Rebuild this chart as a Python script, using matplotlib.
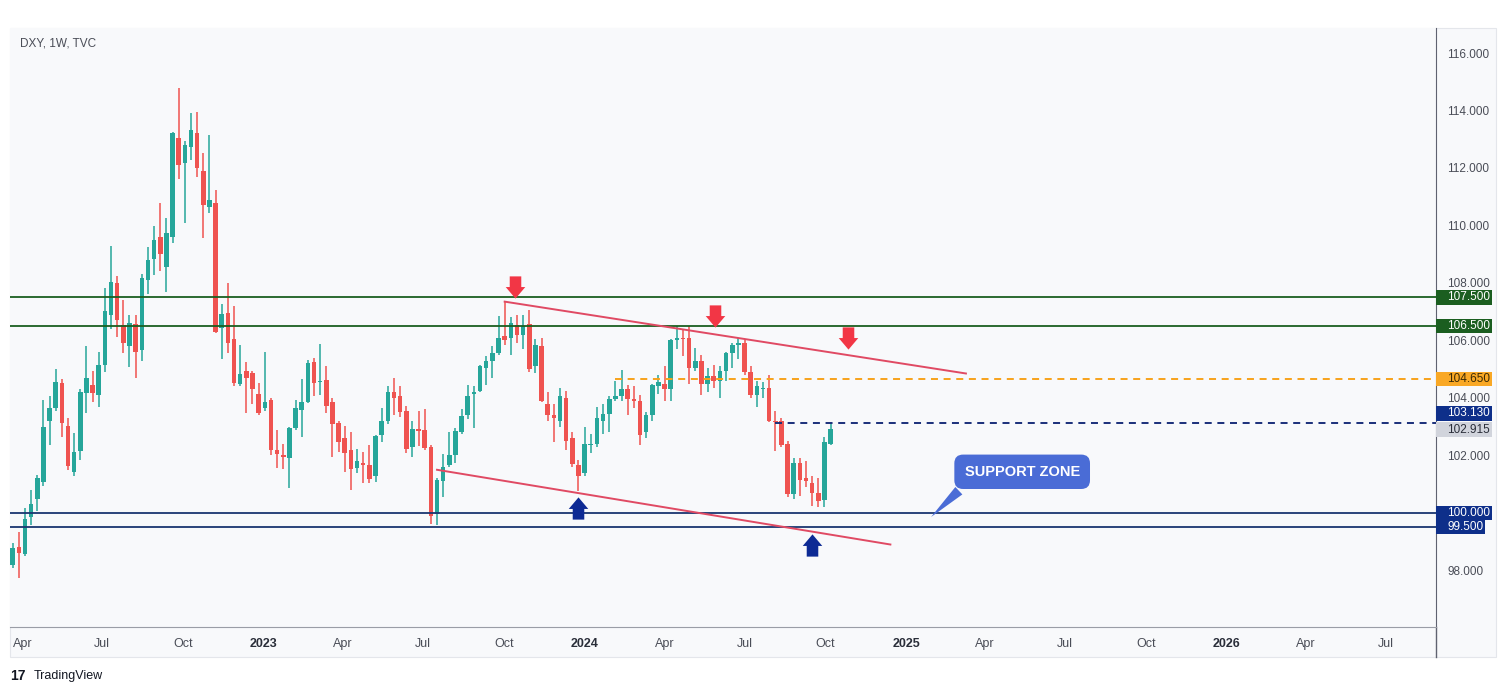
import numpy as np
import pandas as pd
import matplotlib
matplotlib.use('Agg')
import matplotlib.pyplot as plt
import matplotlib.dates as mdates
from matplotlib.path import Path
from matplotlib.patches import Rectangle
from matplotlib.lines import Line2D
from matplotlib.transforms import blended_transform_factory

plt.rcParams['font.family'] = ['Liberation Sans', 'DejaVu Sans']

# DXY weekly candles, first bar is the week of 2022-03-21
first_week = '2022-03-21'
opens = [
    98.20, 98.80, 98.57, 99.86, 100.50, 101.09, 103.18, 103.66, 104.51, 103.04,
    101.44, 102.17, 104.16, 104.45, 104.10, 105.15, 106.89, 107.99, 106.54, 105.82,
    106.56, 105.67, 108.10, 108.82, 109.61, 108.55, 109.61, 113.03, 112.17, 112.72,
    113.23, 111.88, 110.65, 110.77, 106.42, 106.95, 106.05, 104.49, 104.95, 104.86,
    104.14,
    103.64, 103.93, 102.19, 102.02, 101.90, 102.97, 103.58, 103.87, 105.26, 104.55,
    104.63, 103.87, 103.12, 102.60, 102.19, 101.55, 101.73, 101.67, 101.30, 102.70,
    103.18, 104.22, 104.05, 103.56, 102.29, 102.92, 102.90, 102.30, 99.95, 101.10,
    101.65, 102.00, 102.83, 103.40, 104.15, 104.25, 105.05, 105.30, 105.55, 106.15,
    106.10, 106.55, 106.20, 106.56, 105.10, 105.80, 103.80, 103.40, 103.20, 104.00,
    102.60, 101.65,
    101.40, 102.35, 102.40, 103.20, 103.45, 103.95, 104.05, 104.30, 103.95, 103.90,
    102.80, 103.40, 104.40, 104.50, 104.30, 106.00, 106.10, 106.10, 105.05, 105.30,
    104.50, 104.75, 104.60, 104.95, 105.55, 105.85, 105.90, 104.90, 104.10, 104.30,
    104.35, 103.20, 103.20, 102.40, 100.65, 101.75, 101.20, 101.05, 100.70, 100.45,
    102.40,
]
highs = [
    98.95, 99.35, 100.17, 100.78, 101.32, 103.93, 104.07, 105.00, 104.66, 103.30,
    102.77, 104.30, 105.81, 104.95, 105.61, 107.82, 109.29, 108.25, 107.41, 106.89,
    106.90, 108.30, 109.26, 109.98, 110.79, 110.25, 113.26, 114.77, 112.95, 113.92,
    113.96, 112.51, 113.15, 111.23, 107.26, 108.01, 107.20, 105.84, 105.26, 104.94,
    104.53,
    105.61, 104.00, 102.89, 102.40, 103.00, 103.93, 104.66, 105.32, 105.38, 105.88,
    105.11, 104.00, 103.18, 103.03, 102.81, 102.22, 102.13, 102.37, 102.71, 103.64,
    104.42, 104.69, 104.40, 103.72, 103.18, 103.55, 103.60, 102.35, 101.20, 102.05,
    102.83, 102.95, 103.60, 104.45, 104.40, 105.15, 105.45, 105.80, 106.85, 107.35,
    106.80, 106.90, 106.90, 107.05, 106.05, 106.10, 104.20, 103.80, 104.35, 104.25,
    102.80, 101.85,
    103.00, 102.75, 103.70, 103.80, 104.05, 104.60, 104.97, 104.45, 104.40, 104.10,
    103.50, 104.50, 104.80, 105.10, 106.05, 106.50, 106.40, 106.50, 105.75, 105.50,
    105.05, 105.15, 105.10, 105.60, 105.90, 106.10, 106.00, 105.10, 104.60, 104.55,
    104.80, 103.55, 103.30, 102.50, 101.90, 101.90, 101.80, 101.30, 101.20, 102.65,
    103.13,
]
lows = [
    98.10, 97.75, 98.50, 99.58, 100.05, 100.95, 102.37, 103.55, 102.65, 101.50,
    101.30, 101.84, 103.47, 103.87, 103.68, 104.90, 106.40, 106.13, 105.55, 105.09,
    104.68, 105.30, 107.60, 108.28, 108.40, 107.70, 109.39, 111.60, 110.08, 112.28,
    111.70, 109.55, 110.45, 106.25, 105.36, 105.55, 104.40, 104.42, 103.47, 103.79,
    103.41,
    103.55, 102.02, 101.55, 101.52, 100.86, 102.89, 102.63, 103.84, 104.07, 104.10,
    103.47, 101.96, 102.13, 101.44, 100.78, 101.38, 101.03, 101.03, 101.09, 102.45,
    103.10, 103.41, 103.35, 102.07, 101.96, 102.31, 102.20, 99.62, 99.58, 100.57,
    101.61, 101.75, 102.75, 103.25, 102.95, 104.20, 104.45, 104.70, 105.50, 105.85,
    105.50, 105.90, 105.70, 104.90, 104.85, 103.85, 103.20, 102.45, 103.00, 102.20,
    101.60, 100.75,
    101.30, 102.10, 102.30, 102.75, 102.80, 103.90, 103.90, 103.40, 103.65, 102.35,
    102.60, 103.20, 104.15, 103.90, 103.90, 105.70, 105.45, 104.50, 104.95, 104.10,
    104.20, 104.35, 104.00, 104.60, 105.05, 105.35, 104.80, 104.00, 103.70, 104.00,
    103.15, 102.15, 102.30, 100.55, 100.50, 100.60, 100.90, 100.25, 100.20, 100.20,
    102.35,
]
closes = [
    98.77, 98.62, 99.78, 100.31, 101.20, 102.99, 103.66, 104.57, 103.14, 101.63,
    102.13, 104.20, 104.71, 104.16, 105.15, 107.03, 108.05, 106.71, 105.90, 106.60,
    105.61, 108.18, 108.80, 109.50, 109.00, 109.75, 113.20, 112.10, 112.80, 113.32,
    111.99, 110.71, 110.89, 106.31, 106.92, 105.90, 104.52, 104.83, 104.69, 104.30,
    103.47,
    103.87, 102.19, 102.05, 101.96, 102.95, 103.64, 103.87, 105.23, 104.51, 104.59,
    103.71, 103.10, 102.48, 102.08, 101.53, 101.81, 101.67, 101.18, 102.68, 103.20,
    104.22, 103.99, 103.52, 102.23, 102.91, 102.85, 102.25, 99.90, 101.15, 101.60,
    102.00, 102.85, 103.37, 104.05, 104.22, 105.10, 105.30, 105.55, 106.10, 106.00,
    106.60, 106.20, 106.50, 105.00, 105.85, 103.90, 103.40, 103.30, 104.05, 102.50,
    101.70, 101.30,
    102.40, 102.40, 103.30, 103.45, 103.95, 104.05, 104.30, 103.95, 103.90, 102.70,
    103.40, 104.45, 104.55, 104.30, 106.00, 106.10, 106.05, 105.05, 105.30, 104.50,
    104.75, 104.60, 104.95, 105.55, 105.85, 105.90, 104.90, 104.10, 104.40, 104.35,
    103.20, 103.15, 102.35, 100.65, 101.75, 101.15, 101.10, 100.70, 100.40, 102.47,
    102.92,
]

# drawn levels
green_levels = [107.5, 106.5]
blue_levels = [100.0, 99.5]
orange_level, orange_from = 104.65, '2024-02-05'
navy_level, navy_from = 103.13, '2024-08-05'
last_price = 102.915

# trendlines (date, price)
upper_trend = [('2023-10-02', 107.35), ('2025-03-10', 104.85)]
lower_trend = [('2023-07-17', 101.50), ('2024-12-14', 98.90)]

# arrows
sell_arrows = [('2023-10-14', 107.86), ('2024-05-28', 106.85), ('2024-10-27', 106.10)]
buy_arrows = [('2023-12-25', 100.16), ('2024-09-16', 98.90)]

# callout
callout_tip = ('2025-01-27', 99.79)
callout_box = ('2025-05-13', 101.43)

month_ticks = ['2022-04-01', '2022-07-01', '2022-10-01', '2023-01-01', '2023-04-01',
               '2023-07-01', '2023-10-01', '2024-01-01', '2024-04-01', '2024-07-01',
               '2024-10-01', '2025-01-01', '2025-04-01', '2025-07-01', '2025-10-01',
               '2026-01-01', '2026-04-01', '2026-07-01']
month_labels = ['Apr', 'Jul', 'Oct', '2023', 'Apr', 'Jul', 'Oct', '2024', 'Apr', 'Jul',
                'Oct', '2025', 'Apr', 'Jul', 'Oct', '2026', 'Apr', 'Jul']

GREEN = '#26a69a'
RED = '#ef5350'
W, H = 1506, 694


def d2n(d):
    return mdates.date2num(pd.Timestamp(d))


o = np.array(opens)
h = np.array(highs)
l = np.array(lows)
c = np.array(closes)
weeks = pd.date_range(first_week, periods=len(c), freq='7D')
x = mdates.date2num(weeks)
col = np.where(c >= o, GREEN, RED)

fig = plt.figure(figsize=(W / 100, H / 100), dpi=100)
fig.patch.set_facecolor('white')
# chart card background (plot + scales)
fig.patches.append(Rectangle((10 / W, 1 - 657 / H), 1486 / W, 629 / H,
                             transform=fig.transFigure, fc='#f8f9fb', ec='#e4e6eb',
                             lw=0.8, zorder=-5))

ax = fig.add_axes([10 / W, 1 - 627 / H, 1426 / W, 599 / H])
ax.set_zorder(2)
ax.set_facecolor('#f8f9fb')
x_left, x_right = d2n('2022-03-18'), d2n('2026-08-27')
ax.set_xlim(x_left, x_right)
ax.set_ylim(96.03, 116.87)

# candles
ax.vlines(x, l, h, color=col, lw=1.1, zorder=2)
ax.bar(x, np.maximum(np.abs(c - o), 0.04), bottom=np.minimum(o, c), width=5.2,
       color=col, zorder=3)

# levels
for lv in green_levels:
    ax.axhline(lv, color='#1b5e20', lw=1.3, zorder=4)
for lv in blue_levels:
    ax.axhline(lv, color='#1a3670', lw=1.3, zorder=4)
ax.hlines(orange_level, d2n(orange_from), x_right, color='#f7a21b', lw=1.4,
          ls=(0, (3.6, 2.9)), zorder=4)
ax.hlines(navy_level, d2n(navy_from), x_right, color='#1a2f7a', lw=1.4,
          ls=(0, (3.6, 2.9)), zorder=4)

# trendlines
for line in (upper_trend, lower_trend):
    ax.plot([d2n(p[0]) for p in line], [p[1] for p in line], color='#e04a63',
            lw=1.4, zorder=5)

# block arrow markers
down_arrow = Path([(-0.26, 0.5), (0.26, 0.5), (0.26, 0.02), (0.44, 0.02), (0, -0.5),
                   (-0.44, 0.02), (-0.26, 0.02), (-0.26, 0.5)], closed=True)
up_arrow = Path([(px, -py) for px, py in down_arrow.vertices], closed=True)
ax.plot([d2n(a[0]) for a in sell_arrows], [a[1] for a in sell_arrows], ls='none',
        marker=down_arrow, ms=16, color='#f23645', mew=0, zorder=7)
ax.plot([d2n(a[0]) for a in buy_arrows], [a[1] for a in buy_arrows], ls='none',
        marker=up_arrow, ms=16, color='#0d2a94', mew=0, zorder=7)

# callout
ax.annotate('SUPPORT ZONE', xy=(d2n(callout_tip[0]), callout_tip[1]),
            xytext=(d2n(callout_box[0]), callout_box[1]), ha='center', va='center',
            fontsize=10.5, fontweight='bold', color='white', zorder=8,
            bbox=dict(boxstyle='round,pad=0.7,rounding_size=0.6', fc='#4a6cd6', ec='none'),
            arrowprops=dict(arrowstyle='wedge,tail_width=0.7', fc='#4a6cd6', ec='none',
                            relpos=(0.06, 0.0)))

# axes styling
for s in ('top', 'left'):
    ax.spines[s].set_visible(False)
ax.spines['right'].set_color('#5f6270')
ax.spines['bottom'].set_color('#9a9da6')
fig.add_artist(Line2D([1436 / W, 1436 / W], [1 - 627 / H, 1 - 657 / H],
                      transform=fig.transFigure, color='#5f6270', lw=1))

ax.yaxis.tick_right()
yt = np.arange(98, 117, 2)
ax.set_yticks(yt)
ax.set_yticklabels([f'{v:.3f}' for v in yt])
ax.tick_params(axis='y', length=0, pad=8, labelsize=8.5, labelcolor='#4a4d57')

ax.set_xticks([d2n(t) for t in month_ticks])
ax.set_xticklabels(month_labels)
ax.tick_params(axis='x', length=0, pad=8, labelsize=9, labelcolor='#4a4d57')
for lab in ax.get_xticklabels():
    if lab.get_text().isdigit():
        lab.set_fontweight('bold')
        lab.set_color('#2a2e39')

# price tags on the scale: (price, shift of tag in price units so tags don't collide)
tags = [(107.5, 0.0, '#1b5e20', 'white'), (106.5, 0.0, '#1b5e20', 'white'),
        (orange_level, 0.0, '#f9a825', '#3a2a05'), (navy_level, 0.33, '#0e2f8a', 'white'),
        (last_price, -0.02, '#d1d4dc', '#2a2e39'), (100.0, 0.0, '#0e2f8a', 'white'),
        (99.5, 0.0, '#0e2f8a', 'white')]
tr = blended_transform_factory(ax.transAxes, ax.transData)
px_per_ax = 1 / 1426
for val, shift, fc, tc in tags:
    yc = val + shift
    wbox = (49 if val < 100 else 56) * px_per_ax
    ax.add_patch(Rectangle((1.0, yc - 0.25), wbox, 0.5, transform=tr, fc=fc, ec='none',
                           clip_on=False, zorder=9))
    ax.text(1.0 + 11 * px_per_ax, yc, f'{val:.3f}', transform=tr, ha='left',
            va='center', fontsize=8.5, color=tc, clip_on=False, zorder=10)

fig.text(20 / W, 1 - 44 / H, 'DXY, 1W, TVC', fontsize=8.5, color='#4a4d57', va='center')
fig.text(10 / W, 1 - 676 / H, '17', fontsize=10, fontweight='heavy', color='#131722',
         va='center')
fig.text(34 / W, 1 - 676 / H, 'TradingView', fontsize=9, color='#131722', va='center')

fig.savefig('out.png', dpi=100)
